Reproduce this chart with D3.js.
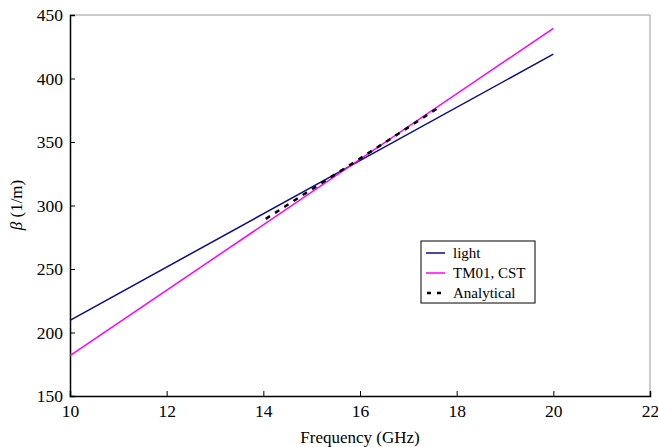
<!DOCTYPE html>
<html><head><meta charset="utf-8">
<script src="https://cdn.jsdelivr.net/npm/d3@7/dist/d3.min.js"></script>
<style>
body{margin:0;background:#fff;}
svg{display:block;}
svg text{font-family:"Liberation Serif","Times New Roman",serif !important;fill:#000;}
</style></head>
<body><svg id="c" width="658" height="447"></svg>
<script>
const xTicks = [10, 12, 14, 16, 18, 20, 22];
const yTicks = [150, 200, 250, 300, 350, 400, 450];
const lightF = [10, 20];
const lightB = [209.6, 419.2];
const tmF = [10, 20];
const tmB = [181.7, 439.5];
const anaF = [14.05, 15, 16, 17, 17.6];
const anaB = [289.5, 312.7, 337, 361.5, 376.5];
const legendLabels = ["light", "TM01, CST", "Analytical"];

const svg = d3.select("#c");
const L = 70, R = 650, T = 15, B = 396;
const x = d3.scaleLinear().domain([10, 22]).range([L, R]);
const y = d3.scaleLinear().domain([150, 450]).range([B, T]);

// frame top/right
svg.append("line").attr("x1", L).attr("x2", R).attr("y1", T).attr("y2", T).attr("stroke", "#999").attr("stroke-width", 1);
svg.append("line").attr("x1", R).attr("x2", R).attr("y1", T).attr("y2", B).attr("stroke", "#999").attr("stroke-width", 1);

const xa = svg.append("g").attr("transform", `translate(0,${B})`)
  .call(d3.axisBottom(x).tickValues(xTicks).tickSize(-5).tickPadding(9).tickFormat(d3.format("d")));
const ya = svg.append("g").attr("transform", `translate(${L},0)`)
  .call(d3.axisLeft(y).tickValues(yTicks).tickSize(-5).tickPadding(7).tickFormat(d3.format("d")));
[xa, ya].forEach(a => {
  a.attr("font-family", "Liberation Serif").attr("font-size", 17.5);
  a.select(".domain").attr("stroke", "#000").attr("stroke-width", 1.5);
  a.selectAll(".tick line").attr("stroke", "#000");
  a.selectAll("text").attr("font-size", 17.5).attr("fill", "#000");
});
xa.selectAll(".tick").filter(d => d === 22).select("line").remove();

const line = d3.line().x(d => x(d[0])).y(d => y(d[1]));
svg.append("path").datum(lightF.map((f, i) => [f, lightB[i]])).attr("d", line)
  .attr("fill", "none").attr("stroke", "#0a0a8c").attr("stroke-width", 1.5);
svg.append("path").datum(tmF.map((f, i) => [f, tmB[i]])).attr("d", line)
  .attr("fill", "none").attr("stroke", "#ff00ff").attr("stroke-width", 1.5);
svg.append("path").datum(anaF.map((f, i) => [f, anaB[i]])).attr("d", line)
  .attr("fill", "none").attr("stroke", "#000").attr("stroke-width", 2.5).attr("stroke-dasharray", "5,6");

// axis titles
svg.append("text").attr("x", 360).attr("y", 443).attr("text-anchor", "middle")
  .attr("font-size", 17).text("Frequency (GHz)");
const yt = svg.append("text").attr("transform", "translate(22,205) rotate(-90)").attr("text-anchor", "middle").attr("font-size", 17);
yt.append("tspan").attr("font-style", "italic").text("β");
yt.append("tspan").text(" (1/m)");

// legend
const lg = svg.append("g");
lg.append("rect").attr("x", 421).attr("y", 241).attr("width", 114).attr("height", 62)
  .attr("fill", "#fff").attr("stroke", "#000").attr("stroke-width", 1);
const colors = ["#0a0a8c", "#ff00ff", "#000"];
legendLabels.forEach((lab, i) => {
  const yy = 253 + i * 20;
  const ln = lg.append("line").attr("x1", 426).attr("x2", 445).attr("y1", yy).attr("y2", yy)
    .attr("stroke", colors[i]).attr("stroke-width", i === 2 ? 2.5 : 1.5);
  if (i === 2) ln.attr("stroke-dasharray", "4,6").attr("x1", 427);
  lg.append("text").attr("x", 453).attr("y", yy + 5).attr("font-size", 15).text(lab);
});
</script></body></html>
